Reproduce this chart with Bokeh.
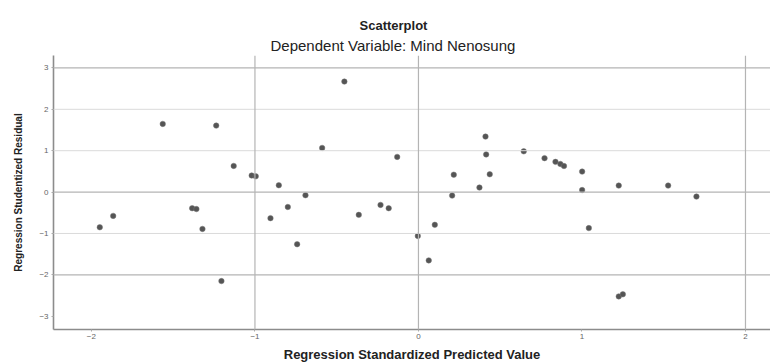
from bokeh.plotting import figure
from bokeh.models import Span, Title, FixedTicker, Range1d
from bokeh.embed import file_html
from bokeh.resources import INLINE

# Data
pred = [-1.949, -1.867, -1.564, -1.384, -1.358, -1.321, -1.237, -1.205, -1.130,
        -1.020, -0.995, -0.854, -0.905, -0.799, -0.742, -0.691, -0.589, -0.453,
        -0.365, -0.232, -0.182, -0.130, -0.004, 0.063, 0.100, 0.206, 0.216,
        0.373, 0.410, 0.414, 0.436, 0.644, 0.771, 0.838, 0.868, 0.890, 1.001,
        1.001, 1.042, 1.225, 1.225, 1.250, 1.527, 1.700]
resid = [-0.85, -0.575, 1.647, -0.39, -0.41, -0.89, 1.606, -2.15, 0.632,
         0.40, 0.38, 0.165, -0.63, -0.36, -1.26, -0.076, 1.067, 2.67,
         -0.55, -0.31, -0.39, 0.85, -1.06, -1.65, -0.79, -0.085, 0.42,
         0.11, 1.34, 0.91, 0.43, 0.985, 0.82, 0.73, 0.68, 0.63, 0.495,
         0.05, -0.87, 0.157, -2.52, -2.47, 0.157, -0.109]
x_ticks = [-2, -1, 0, 1, 2]
y_ticks = [-3, -2, -1, 0, 1, 2, 3]
h_grid_strong = [3, 0, -2]
h_grid_light = [2, 1, -1]
v_grid = [-1, 0, 2]

title_text = "Scatterplot"
subtitle_text = "Dependent Variable: Mind Nenosung"
x_label = "Regression Standardized Predicted Value"
y_label = "Regression Studentized Residual"

FONT = "Liberation Sans"

p = figure(width=770, height=364, output_backend="svg", toolbar_location=None,
           x_range=Range1d(-2.232, 2.153), y_range=Range1d(-3.32, 3.30),
           min_border_left=53, min_border_right=0, min_border_top=55,
           min_border_bottom=35)
p.outline_line_color = None
p.xgrid.visible = False
p.ygrid.visible = False

p.title.text = title_text
p.title.align = "left"
p.title.offset = 306
p.title.standoff = 2
p.title.text_font = FONT
p.title.text_font_size = "13px"
p.title.text_font_style = "bold"
p.title.text_color = "#222222"

p.add_layout(Title(text=subtitle_text, align="left", offset=217, standoff=3,
                   text_font=FONT, text_font_size="15px", text_font_style="normal",
                   text_color="#222222"), "above")

for v in h_grid_strong:
    p.add_layout(Span(location=v, dimension="width", line_color="#b4b4b4", line_width=1.2))
for v in h_grid_light:
    p.add_layout(Span(location=v, dimension="width", line_color="#dadada", line_width=1))
for v in v_grid:
    p.add_layout(Span(location=v, dimension="height", line_color="#b4b4b4", line_width=1.2))

p.scatter(pred, resid, size=5.5, fill_color="#555555", line_color="#777777",
          line_width=0.8, line_alpha=0.6)

for ax, ticks in ((p.xaxis[0], x_ticks), (p.yaxis[0], y_ticks)):
    ax.ticker = FixedTicker(ticks=ticks)
    ax.axis_line_color = "#8c8c8c"
    ax.axis_line_width = 1.6
    ax.major_tick_line_color = "#aaaaaa"
    ax.major_tick_out = 2
    ax.major_tick_in = 0
    ax.minor_tick_line_color = None
    ax.major_label_text_font = FONT
    ax.major_label_text_font_size = "8px"
    ax.major_label_text_color = "#666666"
    ax.axis_label_text_font = FONT
    ax.axis_label_text_font_style = "bold"
    ax.axis_label_text_color = "#222222"

p.xaxis.axis_label = x_label
p.xaxis.axis_label_text_font_size = "13px"
p.xaxis.major_label_standoff = 2
p.xaxis.axis_label_standoff = 5
p.yaxis.axis_label = y_label
p.yaxis.axis_label_text_font_size = "10px"
p.yaxis.major_label_standoff = 3
p.yaxis.axis_label_standoff = 12

open("out.html", "w").write(file_html(p, INLINE))
